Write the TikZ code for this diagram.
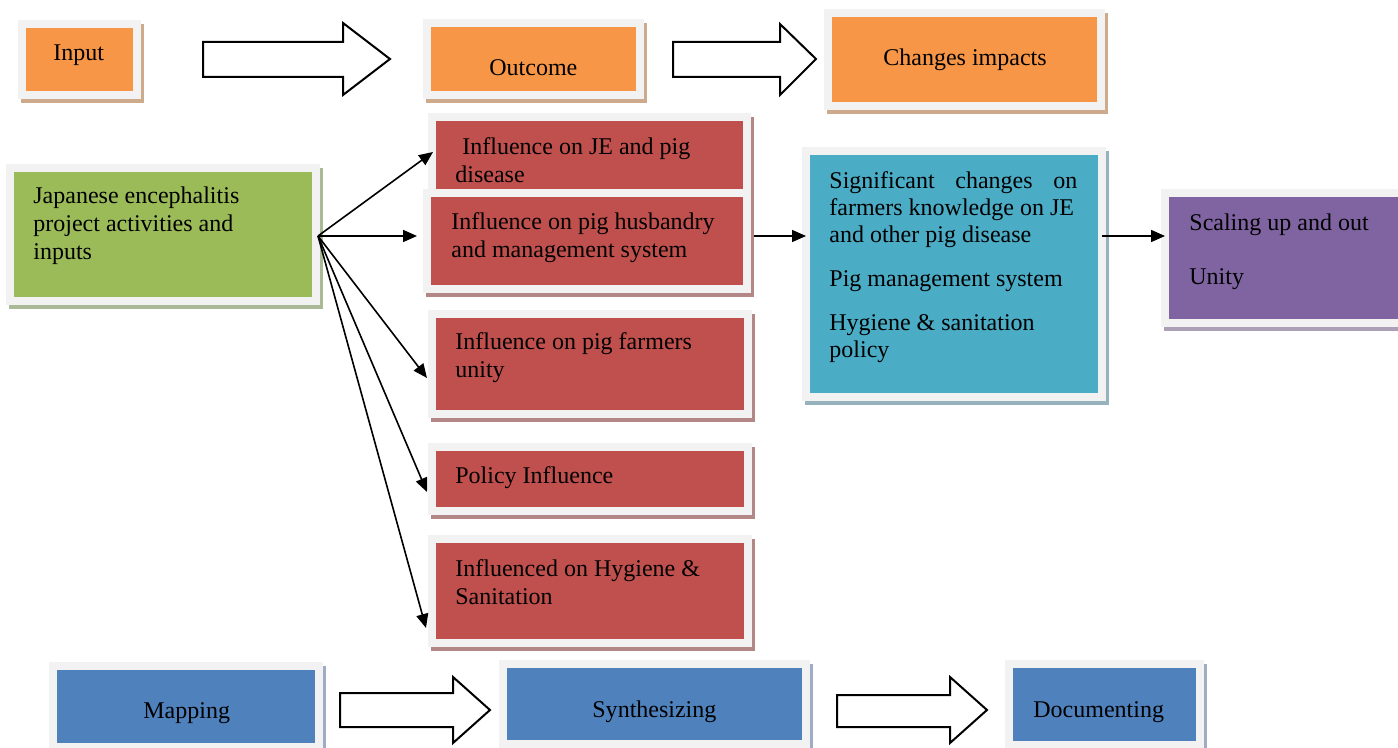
\documentclass[tikz,border=0pt]{standalone}
\usepackage{fontspec}
\setmainfont{Liberation Serif}
\usetikzlibrary{fit,arrows.meta}
\definecolor{framecol}{HTML}{F2F2F2}
\definecolor{orangeC}{HTML}{F79646}
\definecolor{greenC}{HTML}{9BBB59}
\definecolor{redC}{HTML}{C0504D}
\definecolor{tealC}{HTML}{4BACC6}
\definecolor{purpleC}{HTML}{8064A2}
\definecolor{blueC}{HTML}{4F81BD}
\definecolor{orangeS}{RGB}{205,170,140}
\definecolor{greenS}{RGB}{170,185,150}
\definecolor{redS}{RGB}{180,135,135}
\definecolor{tealS}{RGB}{150,178,188}
\definecolor{purpleS}{RGB}{172,160,182}
\definecolor{blueS}{RGB}{160,172,195}
\tikzset{
  box/.style={inner sep=0pt, outer sep=2pt, draw=framecol, line width=4pt, fill=#1},
  txt/.style={anchor=base west, inner sep=0pt, align=left, font=\fontsize{12}{14}\selectfont},
  conn/.style={line width=0.8pt, -{Triangle[length=7pt,width=6pt]}},
  blockarrow/.style={draw=black, fill=white, line width=1pt, line join=miter}
}
\newcommand{\mkbox}[7]{%
  \fill[#7] (#2-5,#3-4) rectangle (#4+11,#5+12);
  \node[box=#6, fit={(#2-4,#3-4) (#4+4,#5+4)}] (#1) {};}
\begin{document}
\begin{tikzpicture}[x=0.5pt,y=-0.5pt]
\useasboundingbox (0,0) rectangle (1398,748);
\clip (0,0) rectangle (1398,748);
\fill[white] (0,0) rectangle (1398,748);

% top row
\mkbox{in}{26}{28}{133}{91}{orangeC}{orangeS}
\mkbox{out}{431}{27}{636}{91}{orangeC}{orangeS}
\mkbox{ch}{832}{17}{1097}{102}{orangeC}{orangeS}
\node[txt] (tin) at (53,61) {Input};
\node[txt] (tout) at (489,76) {Outcome};
\node[txt] (tch) at (883,66) {Changes impacts};

\draw[blockarrow] (203,42) -- (343,42) -- (343,23) -- (390,59) -- (343,95) -- (343,77) -- (203,77) -- cycle;
\draw[blockarrow] (673,42) -- (780,42) -- (780,24) -- (816,59) -- (780,95) -- (780,77) -- (673,77) -- cycle;

% green
\mkbox{g}{14}{172}{312}{297}{greenC}{greenS}
\node[txt] (tg) at (33,260) {Japanese encephalitis\\project activities and\\inputs};

% red boxes
\mkbox{r1}{436}{121}{743}{189}{redC}{redS}
\node[txt] (tr1) at (455,183) {\hspace*{3.5pt}Influence on JE and pig\\disease};
\mkbox{r2}{431}{197}{743}{285}{redC}{redS}
\node[txt] (tr2) at (451,258) {Influence on pig husbandry\\and management system};
\mkbox{r3}{436}{318}{744}{410}{redC}{redS}
\node[txt] (tr3) at (455,378) {Influence on pig farmers\\unity};
\mkbox{r4}{436}{451}{744}{507}{redC}{redS}
\node[txt] (tr4) at (455,484) {Policy Influence};
\mkbox{r5}{436}{543}{744}{639}{redC}{redS}
\node[txt] (tr5) at (455,604) {Influenced on Hygiene \&\\Sanitation};

% teal
\mkbox{t}{810}{155}{1098}{393}{tealC}{tealS}
\node[txt, font=\fontsize{12}{13.5}\selectfont] (tt1) at (829,243) {\hbox to 124pt{Significant\hfill changes\hfill on}\\farmers knowledge on JE\\and other pig disease};
\node[txt] (tt2) at (829,287) {Pig management system};
\node[txt, font=\fontsize{12}{13.5}\selectfont] (tt3) at (829,358) {Hygiene \& sanitation\\policy};

% purple
\mkbox{p}{1169}{197}{1420}{319}{purpleC}{purpleS}
\node[txt] (tp) at (1189,285) {Scaling up and out\\[13pt]Unity};

% bottom row
\mkbox{m}{57}{670}{315}{743}{blueC}{blueS}
\mkbox{s}{507}{668}{802}{740}{blueC}{blueS}
\mkbox{d}{1013}{668}{1196}{741}{blueC}{blueS}
\node[txt] (tm) at (143,718) {Mapping};
\node[txt] (ts) at (592,717) {Synthesizing};
\node[txt] (td) at (1033,717) {Documenting};

\draw[blockarrow] (340,693) -- (453,693) -- (453,677) -- (490,710) -- (453,743) -- (453,727) -- (340,727) -- cycle;
\draw[blockarrow] (837,695) -- (950,695) -- (950,677) -- (987,710) -- (950,743) -- (950,727) -- (837,727) -- cycle;

% connectors
\coordinate (hub) at ([shift={(-2,1.5)}]g.east);
\draw[conn] (hub) -- ([shift={(5,-3)}]r1.west);
\draw[conn] (hub) -- ([shift={(-6,-5)}]r2.west);
\draw[conn] (hub) -- ([shift={(-1,14)}]r3.west);
\draw[conn] (hub) -- ([shift={(-1,13)}]r4.west);
\draw[conn] (hub) -- ([shift={(-2,37)}]r5.west);
\draw[conn] ([shift={(3,-5)}]r2.east) -- ([shift={(4,-38)}]t.west);
\draw[conn] ([shift={(-4,-38)}]t.east) -- ([shift={(4,-22)}]p.west);
\end{tikzpicture}
\end{document}
